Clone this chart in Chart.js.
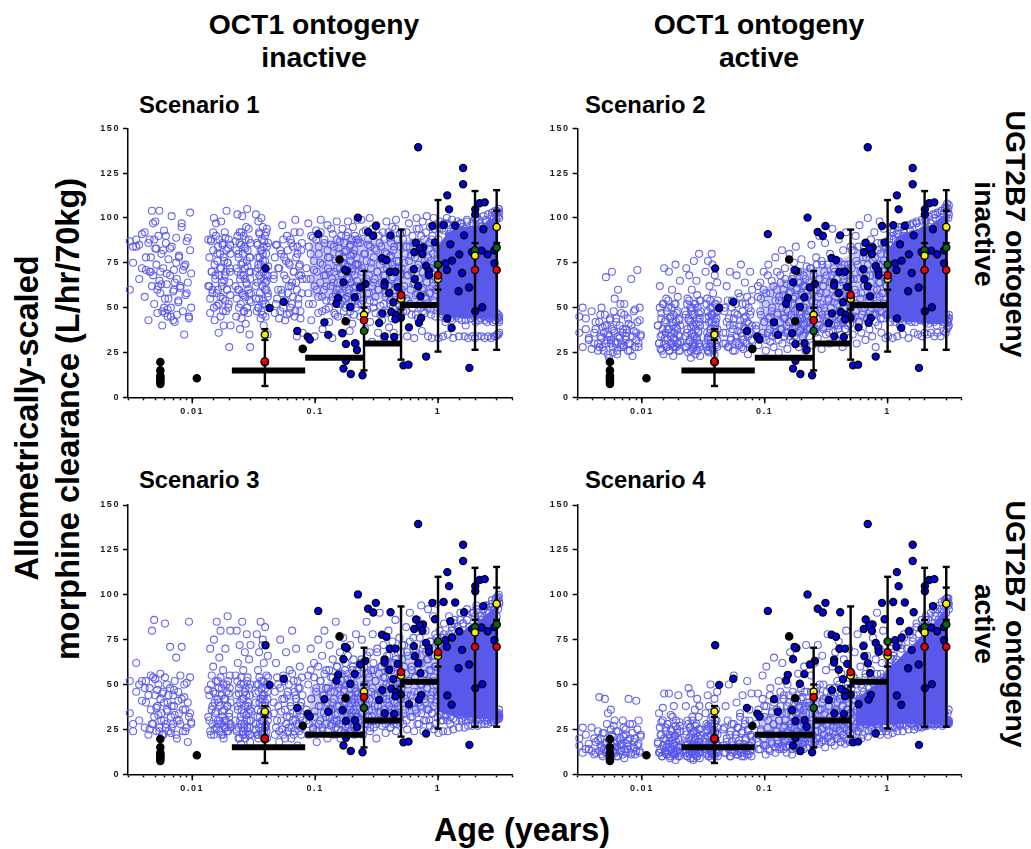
<!DOCTYPE html>
<html><head><meta charset="utf-8">
<script src="https://cdn.jsdelivr.net/npm/chart.js@4/dist/chart.umd.min.js"></script>
<style>
html,body{margin:0;padding:0;background:#fff}
body{width:1031px;height:849px;position:relative;overflow:hidden;font-family:"Liberation Sans",Arial,sans-serif;font-weight:bold;color:#000}
canvas{position:absolute}
.t{position:absolute;white-space:nowrap;transform:translate(-50%,-50%);line-height:1}
</style></head><body>
<script>
// simulated individuals: age in years, one row per age cluster
const cloudAge=[
[.0031,.0033,.0035,.0037,.0039,.0041,.0042,.0044,.0045,.0046,.0047,.0048,.0049,.005,.0051,.0052,.0053,.0054,.0055,.0056,.0057,.0058,.0059,.006,.0061,.0062,.0063,.0064,.0066,.0067,.0068,.007,.0071,.0072,.0074,.0075,.0077,.0078,.008,.0082,.0084,.0086,.0088,.009,.0092,.0094,.0096,.0098],
[.0135,.0138,.014,.0142,.0144,.0146,.0148,.015,.0152,.0154,.0156,.0158,.016,.0162,.0164,.0166,.0168,.017,.0172,.0174,.0176,.0178,.018,.0182,.0184,.0186,.0188,.019,.0192,.0194,.0196,.0198,.02,.0202,.0204,.0205],
[.0225,.0228,.023,.0233,.0235,.0238,.024,.0243,.0245,.0248,.025,.0252,.0255,.0258,.026,.0262,.0265,.0268,.027,.0272,.0275,.0278,.028,.0282,.0285,.0288,.029,.0292,.0294,.0296,.0298,.03],
[.0328,.033,.0335,.034,.0343,.0345,.035,.0352,.0355,.036,.0362,.0365,.037,.0372,.0375,.038,.0382,.0385,.039,.0392,.0395,.04,.0402,.0405,.041,.0412,.0415,.0345,.0375,.0395],
[.046,.047,.048,.049,.05,.051,.052,.053,.054,.055,.056,.057,.058,.059,.06,.061,.062,.063,.064,.065,.066,.067,.068,.069,.07,.071,.072,.073,.074,.075,.076,.077,.078,.079],
[.085,.088,.089,.092,.093,.096,.098,.099,.102,.103,.106,.107,.11,.111,.114,.115,.118,.119,.122,.123,.126,.127,.13,.131,.134,.135,.138,.139,.142,.143,.146,.147,.15,.151,.153,.155,.157,.159,.161,.163,.165,.167,.169,.171,.173,.175,.177,.179,.181,.183,.185,.187,.189,.191,.193,.195,.197,.199,.201,.203,.205,.207,.209,.211,.213,.215,.217,.219,.221,.223],
[.225,.23,.233,.238,.24,.245,.25,.255,.258,.262,.265,.27,.274,.278,.28,.285,.29,.294,.298,.3,.305,.31,.315,.32,.325,.33,.335,.34,.345,.35,.355,.36,.365,.37,.375,.38,.385,.39,.395,.4,.405,.41,.415,.42,.425,.43,.435,.44,.445,.45,.455,.46,.465,.47,.475,.48,.485,.49,.495,.5],
[.505,.51,.52,.53,.54,.55,.555,.56,.57,.58,.59,.6,.61,.62,.63,.64,.65,.66,.67,.68,.69,.7,.71,.72,.73,.74,.75,.76,.77,.78,.79,.8,.81,.82,.83,.84,.85,.86,.87,.88,.89,.9,.91,.92,.93,.94,.95,.96,.97,.98,.99],
[1.01,1.03,1.05,1.08,1.1,1.12,1.15,1.18,1.2,1.23,1.26,1.3,1.33,1.36,1.4,1.44,1.48,1.52,1.56,1.6,1.64,1.68,1.72,1.76,1.8,1.85,1.9,1.95,2,2.02,2.05,2.1,2.15,2.2,2.25,2.3,2.35,2.4,2.45,2.5,2.55,2.6,2.65,2.7,2.75,2.8,2.85,2.9,2.92,2.95,2.97,3,3.02,3.05,3.08,3.1,3.12,3.14,3.15,3.15]
];
const cloudS1=[
[87,84,88,85,72,92,71,86,70,78,104,68,88,98,83,60,62,104,70,63,48,82,50,47,90,69,45,55,83,50,101,43,60,64,75,46,54,78,62,97,71,35,74,58,89,45,103,50],
[88,62,47,87,70,58,92,100,43,68,97,51,80,60,36,88,72,45,98,64,85,55,40,76,68,89,48,104,60,75,83,52,28,70,85,40],
[87,45,72,102,60,80,50,92,38,68,85,44,101,75,57,90,48,66,83,41,95,63,105,73,47,88,58,35,78,28,70,53],
[62,102,48,85,72,98,55,91,78,44,66,100,82,52,95,70,40,87,60,76,45,92,65,84,35,58,73,50,80,68],
[68,47,85,55,72,44,82,60,96,50,78,43,66,90,58,75,47,88,62,52,84,70,45,99,64,34,80,55,73,92,48,68,86,36],
[66,97,52,80,43,89,71,34,93,60,47,84,75,99,56,38,68,88,49,62,96,78,42,70,85,54,33,91,64,47,77,58,98,72,45,83,60,87,52,69,36,94,75,48,81,63,55,90,44,73,98,58,66,37,85,50,79,70,41,95,61,46,82,54,74,30,88,65,99,52],
[88,62,45,99,72,54,80,38,93,66,49,85,58,100,42,75,31,90,64,53,83,47,96,70,36,60,86,51,77,43,92,68,33,81,56,98,47,74,62,39,89,52,79,44,95,67,36,84,58,72,99,46,63,88,33,76,54,91,49,69],
[60,92,48,75,102,55,84,34,68,97,52,79,46,90,63,33,86,57,100,72,44,94,66,50,81,37,98,61,88,47,74,55,101,68,34,83,58,95,49,76,33,90,64,100,53,85,45,72,96,60,80],
[33,98,45,94,34,97,42,100,35,91,44,99,33,96,46,93,34,97,43,95,34,40,99,33,92,44,34,96,33,47,100,34,43,97,34,94,45,33,99,42,34,96,44,33,101,46,34,98,43,102,34,95,35,103,44,35,105,42,36,100]
];
const cloudS2=[
[45,50,38,33,27,36,42,30,28,46,33,39,26,40,67,32,35,22,43,30,70,25,37,55,31,44,24,60,33,28,47,38,29,52,34,36,26,41,30,66,23,37,49,32,71,28,43,35],
[40,30,62,27,47,35,52,24,72,33,43,55,28,38,50,70,26,45,36,30,60,42,23,33,52,28,74,39,47,30,56,35,26,43,65,31],
[48,28,72,36,55,25,43,68,31,50,22,39,60,27,46,34,76,29,52,24,41,65,33,57,26,37,47,80,30,44,23,54],
[40,70,28,55,33,76,45,25,62,36,50,30,80,42,27,58,34,47,24,68,38,52,29,44,64,32,48,26,74,36],
[30,50,36,62,28,44,70,33,54,26,40,47,31,68,37,58,29,43,74,34,52,27,39,64,45,30,56,24,41,35,70,48,32,60],
[38,62,29,48,55,33,70,42,26,58,36,74,45,31,65,50,28,40,78,35,60,47,25,54,68,38,82,30,57,44,72,36,49,63,27,52,42,80,34,59,46,66,31,55,75,39,48,84,33,61,43,70,28,53,37,64,46,77,30,57,41,68,35,50,62,26,45,73,38,56],
[56,34,72,42,85,29,60,48,38,78,52,33,66,90,44,58,27,74,39,62,50,86,35,68,46,55,30,80,41,64,94,37,53,70,45,32,76,58,40,88,48,62,35,72,54,28,82,43,66,50,38,92,60,46,74,33,56,68,41,84],
[52,82,35,66,45,90,58,30,74,42,96,55,36,70,48,84,62,32,78,44,100,56,38,68,88,50,34,76,60,92,46,28,72,54,86,40,64,98,48,80,36,58,74,44,94,52,68,33,84,62,46],
[34,85,42,90,33,92,45,78,34,95,40,88,35,93,44,86,33,96,42,91,36,45,97,35,88,43,34,93,36,46,99,35,41,95,36,90,43,34,102,40,36,96,44,34,104,42,37,98,45,106,36,94,38,108,42,39,100,44,40,102]
];
const cloudS3=[
[52,28,62,50,41,48,52,44,25,55,80,28,86,53,37,47,33,24,56,30,45,22,40,84,26,50,35,44,71,23,38,28,47,33,65,20,41,30,55,71,36,43,24,51,18,85,34,29],
[47,30,70,22,55,38,60,75,25,45,35,85,28,52,40,65,30,80,22,48,35,58,20,42,30,70,26,50,38,88,24,45,32,55,80,28],
[55,25,80,38,62,20,45,72,30,50,17,36,85,24,58,42,28,68,20,48,33,78,26,54,38,22,64,30,44,18,72,35],
[45,25,78,32,58,20,68,40,28,85,35,52,22,72,44,30,62,24,38,82,48,27,55,20,42,66,33,50,75,26],
[40,22,62,30,50,18,75,35,25,55,42,20,68,32,46,26,58,38,20,80,30,52,24,44,70,34,16,48,28,60,38,22,54,30],
[30,55,22,70,42,25,62,35,48,18,75,28,52,38,66,24,44,80,32,58,20,48,36,72,27,54,40,64,22,46,33,85,30,60,25,50,38,68,20,42,56,28,76,35,47,23,62,40,30,53,66,26,44,36,72,24,50,34,58,28,64,42,22,48,32,78,38,55,26,45],
[40,25,62,34,75,22,50,30,42,85,28,56,36,68,24,46,32,78,58,26,38,52,20,70,44,30,90,35,60,27,48,72,33,54,23,42,66,30,80,38,50,26,58,34,74,44,28,62,36,86,24,52,40,68,31,46,76,29,56,42],
[48,72,28,60,36,82,44,25,66,52,90,32,58,40,76,24,54,68,34,86,46,28,62,38,94,50,70,24,56,42,80,30,64,48,92,36,58,27,74,44,66,34,88,52,25,60,78,40,95,46,32],
[23,80,30,76,24,84,33,70,24,88,28,82,25,86,34,78,26,90,30,84,26,35,92,27,80,32,27,90,28,36,94,27,33,88,28,86,34,28,94,30,28,90,36,29,97,33,29,92,34,98,30,88,32,99,34,31,100,36,32,95]
];
const cloudS4=[
[20,26,14,17,13,20,12,19,43,16,11,23,14,42,12,18,34,15,11,36,22,13,27,17,12,24,15,10,19,16,13,30,21,9,25,17,14,42,20,12,28,18,11,41,16,30,13,22],
[17,34,12,22,29,10,37,16,45,13,26,19,11,28,15,45,20,9,33,14,24,17,11,38,12,21,8,30,16,25,13,44,19,10,27,15],
[14,38,22,10,30,17,48,12,26,9,45,19,13,32,16,8,24,11,36,20,14,28,10,42,18,12,25,15,38,9,22,16],
[18,34,12,25,44,15,10,38,21,13,50,28,9,17,32,14,24,11,42,19,30,12,36,16,46,22,10,27,15,20],
[25,12,38,18,15,50,22,10,28,16,55,13,20,40,11,26,17,34,12,23,44,15,10,30,19,13,52,24,11,36,16,22,45,14],
[20,45,14,32,25,55,16,38,11,60,22,30,13,48,18,35,28,65,12,42,24,17,52,30,15,38,21,62,14,44,27,19,34,12,50,23,40,16,68,26,33,11,46,20,36,29,70,15,24,41,18,56,31,13,37,22,48,27,17,43,33,14,60,25,38,20,72,30,46,23],
[22,40,18,55,28,34,16,62,24,46,20,72,30,17,50,36,25,66,19,42,33,15,58,27,78,21,38,48,18,30,60,24,44,16,68,35,26,52,20,74,32,42,18,56,28,38,22,64,46,17,30,80,25,36,50,19,70,34,23,44],
[30,56,22,44,68,26,50,36,78,24,40,60,20,48,32,72,28,54,38,66,21,45,84,30,58,25,42,76,34,52,23,64,40,90,28,48,36,70,22,56,44,62,30,80,26,50,38,68,24,54,42],
[22,60,30,64,23,68,26,62,24,72,28,70,24,76,32,66,25,78,28,74,25,34,82,26,72,30,26,80,27,35,86,27,32,78,28,84,34,28,88,30,28,86,36,28,92,32,29,88,34,96,29,90,30,98,34,30,94,36,30,92]
];
// second set of simulated individuals, concentrated in the core of each cluster
const coreS1=[
[60,75,84,66,91,56,78,43,88,70,62,97,52,83,74,47,90,65,58,80,40,72,93,55,86,63,49,77,68,45,84,59,71,42,89,66,53,79,61,95,48,73,57,87,64,44,82,69],
[62,78,55,88,70,60,82,50,74,66,90,58,76,84,52,68,80,56,72,62,86,48,78,65,92,54,70,82,60,75,50,88,64,72,57,80],
[62,82,55,90,70,78,60,86,66,52,74,92,58,80,68,48,84,72,56,88,64,76,50,82,60,94,70,54,78,66,86,58],
[70,55,86,64,78,50,92,68,58,82,74,48,88,62,76,54,84,66,90,72,52,80,60,94,68,56,86,74,46,64],
[66,78,52,85,60,72,48,80,58,88,68,54,76,46,82,62,74,50,86,64,56,70,92,48,78,60,84,52,68,74,44,82,58,66],
[72,58,84,66,90,52,76,62,88,70,56,80,64,92,48,74,60,86,68,54,82,72,50,78,62,94,66,56,84,70,46,76,60,88,64,52,80,72,58,90,68,54,78,62,86,74,50,82,66,56,92,70,60,84,48,76,64,88,54,72,80,58,68,90,62,50,78,74,56,86],
[74,60,86,52,70,92,64,80,48,76,58,88,68,54,84,72,62,94,50,78,66,56,82,70,60,90,74,46,84,64,76,52,88,68,58,80,72,48,92,62,78,54,86,66,74,50,82,60,70,94,56,76,64,88,52,72,84,58,68,46],
[72,56,88,62,80,48,92,68,54,76,84,60,70,50,86,64,78,46,94,58,74,66,52,82,90,60,70,48,84,76,56,92,64,50,78,68,86,58,72,46,88,62,80,54,74,94,60,66,84,50,76],
[88,94,48,96,46,93,44,97,47,90,96,43,95,86,45,98,44,92,97,46,94,43,98,47,93,44,97,45,100,42,96,46,99,44,95,47,101,43,98,45,102,44,97,46,103,42,100,45,104,43,99,47,104,44,101,46,105,43,103,45]
];
const coreS2=[
[36,28,44,32,48,30,38,26,42,34,50,28,36,46,30,40,24,34,44,32,38,28,48,36,30,42,26,34,40,52,30,36,28,46,32,38,44,30,26,40,34,48,28,36,42,30,50,34],
[40,30,50,34,44,26,38,52,30,42,36,28,48,32,54,38,26,44,34,50,30,40,28,46,36,32,52,42,28,38,48,30,44,34,26,40],
[34,46,28,52,38,30,44,54,32,42,26,48,36,50,30,40,28,46,34,52,38,26,44,32,50,36,42,30,54,28,40,48],
[44,30,52,36,26,48,34,42,28,54,38,32,46,30,50,40,26,44,36,52,30,42,34,48,28,38,54,32,46,40],
[36,48,30,42,54,28,40,32,50,38,44,26,52,34,46,30,40,56,36,28,48,32,44,38,52,30,42,34,50,28,46,36,54,40],
[40,56,34,64,46,36,60,42,52,32,68,44,38,58,48,34,62,40,54,36,70,46,32,56,42,64,38,50,60,34,44,66,40,54,36,48,58,42,32,62,46,52,38,68,44,34,56,40,60,50,36,64,42,54,48,70,38,58,44,34,62,50,40,56,36,66,46,52,42,60],
[48,64,38,72,54,42,68,50,36,60,74,44,56,40,66,52,76,46,62,38,70,48,58,42,74,54,36,64,50,68,44,60,72,40,56,46,66,52,38,76,48,62,44,70,56,42,64,50,74,38,58,46,68,54,40,72,60,44,66,50],
[56,72,44,82,60,48,76,52,66,84,42,70,58,46,78,62,50,86,68,44,74,54,80,48,64,58,84,46,72,52,78,42,68,60,82,50,74,56,64,44,86,48,70,58,76,52,66,84,46,62,80],
[82,88,46,92,44,88,42,91,45,93,44,95,42,90,46,96,43,93,44,97,45,42,98,46,95,43,99,44,100,42,98,45,101,43,97,44,102,42,100,46,103,43,99,44,104,45,102,42,105,44,100,46,106,43,103,42,105,44,107,46]
];
const coreS3=[
[34,24,46,30,52,26,40,22,48,36,28,54,32,44,24,38,50,26,42,34,22,46,30,54,28,36,40,24,48,32,26,44,38,52,22,30,46,34,28,42,24,50,36,26,40,32,54,28],
[32,44,24,50,36,28,46,22,40,34,52,26,42,30,48,24,38,54,28,44,32,22,50,36,26,42,30,46,24,38,52,28,34,48,26,40],
[30,44,24,52,36,26,48,20,40,32,54,28,42,22,50,34,26,46,38,22,44,30,52,24,40,34,48,26,36,22,50,30],
[40,28,50,22,36,46,26,54,32,42,24,48,30,38,22,52,34,44,26,40,28,50,24,36,46,30,54,22,42,34],
[34,46,26,54,38,24,48,30,42,22,52,36,28,44,24,50,32,40,26,56,34,22,46,30,42,28,52,36,24,48,32,40,26,44],
[36,50,28,58,42,26,54,32,46,24,60,38,30,52,26,44,34,56,28,48,40,24,58,32,46,36,28,54,42,30,50,26,60,38,34,48,28,56,44,24,52,36,30,46,40,58,26,50,34,42,28,56,38,24,48,32,54,44,30,60,36,26,50,40,34,46,28,58,42,32],
[40,56,30,64,46,34,60,28,50,38,66,32,54,42,26,58,36,48,62,30,44,52,28,68,38,56,34,46,60,30,42,54,36,64,28,50,40,58,32,66,44,26,52,36,62,48,30,56,40,34,64,46,28,54,38,60,32,50,42,68],
[48,64,34,72,42,56,30,68,50,38,74,44,60,32,70,46,54,36,66,28,58,40,76,50,34,62,44,72,30,56,40,68,48,36,64,52,30,74,42,58,34,70,46,54,38,66,28,60,50,76,44],
[72,66,33,74,30,78,32,76,30,78,32,80,31,84,30,82,33,86,31,84,32,30,86,33,82,31,90,32,88,30,92,33,90,31,88,32,92,30,94,33,91,31,93,32,95,30,92,33,96,31,94,33,96,32,92,34,98,31,96,33]
];
const coreS4=[
[16,12,22,14,26,11,18,24,13,20,15,10,23,17,12,28,14,19,11,25,16,21,12,30,15,10,18,24,13,20,17,11,26,14,22,12,19,16,28,11,23,15,20,13,25,17,12,21],
[18,12,26,14,22,10,30,16,20,12,24,15,11,28,17,13,22,10,25,14,19,32,12,21,16,11,27,18,13,23,10,20,15,29,12,24],
[16,12,24,18,10,28,14,20,11,26,15,22,12,30,17,9,24,13,19,27,11,16,23,10,21,14,32,18,12,25,15,20],
[20,14,28,11,24,16,10,26,18,13,30,22,12,16,25,11,20,15,28,10,23,14,18,30,12,26,16,21,11,24],
[16,26,12,20,30,14,10,24,18,12,28,15,22,11,26,13,19,32,14,10,24,17,12,28,20,15,11,25,16,30,13,21,10,18],
[28,18,36,14,24,42,20,32,16,38,26,14,44,22,34,17,28,40,15,24,36,19,30,14,46,22,34,16,26,42,18,30,15,38,24,20,44,16,28,36,22,14,32,18,40,26,15,34,20,44,24,17,30,38,14,26,42,19,32,22,16,36,28,46,18,24,34,15,40,20],
[26,38,20,46,30,22,42,18,34,28,48,24,36,20,44,30,18,40,26,50,22,34,28,46,20,38,24,32,44,18,30,42,26,48,22,36,20,40,28,34,50,24,18,44,30,38,22,46,26,32,42,20,36,28,48,24,40,18,34,44],
[34,48,26,54,38,28,44,24,52,32,42,26,50,36,22,46,30,56,28,40,34,24,48,36,54,26,42,30,50,24,38,46,28,56,32,44,26,40,52,30,36,24,48,34,54,28,42,26,46,38,50],
[56,62,27,70,26,66,30,64,28,74,27,72,28,78,27,70,29,80,28,76,27,29,84,28,78,27,86,28,84,27,88,28,86,29,90,28,92,27,90,28,92,29,94,28,96,27,90,29,97,28,94,29,98,28,96,29,98,28,95,29]
];
// solid overlap of the simulated individuals at the oldest ages
const denseAge=[[1,1.2,1.6,2.2,3.1],[1,1.2,1.6,2.2,3.1],[1,1.2,1.6,2.2,3.1],[.55,.8,1,1.3,1.7,2.2,3.1]];
const denseUpper=[[84,92,95,96,101],[82,90,93,96,103],[70,76,80,86,95],[42,50,58,66,74,82,93]];
const denseLower=[[46,45,44,44,44],[45,43,42,41,41],[35,33,32,31,31],[27,27,28,28,28,28,29]];
// mottled overlap at intermediate ages
const mottledAge=[.09,.2,.35,.6,1];
const mottledUpper=[[86,90,88,88,88],[60,70,75,82,84],[48,55,62,68,72],[32,40,45,44,56]];
const mottledLower=[[56,52,55,50,48],[33,35,38,42,46],[25,28,30,32,36],[15,18,20,24,28]];
// observed patients
const blueAge=[.689,1.6,1.6,1.19,1.23,2.18,2.4,2.01,2.01,.223,.312,.27,.297,.106,.411,.9,1.11,1.38,1.63,2.34,.945,.663,1.26,.64,.755,.71,.746,1.49,1.89,2.26,2.53,2.88,1.3,.35,.38,1.15,2.88,.8,1.18,.635,.0395,.181,.175,.405,.45,.84,.845,1.57,.647,.17,.367,.367,.256,.233,.69,.47,1.79,1.47,.4,.72,.154,.21,.149,.433,.193,.0426,.0555,.417,.352,.454,.5,.45,2.01,2.29,1.19,.73,.7,1.29,.58,.332,.119,.0716,.167,.128,.087,.0905,.368,.44,.178,.211,.219,.178,.8,.523,.575,1.8,.17,.195,.243];
const blueValue=[139.4,127.9,118.8,112.6,104.8,108.2,108.7,104.8,102,100.2,95.5,92.2,90.1,91,90.3,95.5,96,95.7,90.3,93.7,86.4,86.2,85.3,80.9,83.5,83,79.9,79.7,81,81.8,79.7,82,76.2,77.7,76.6,74.7,74.7,73.2,71,71.4,71.9,70.4,71,69.9,70,70.4,68.2,69.3,65.8,64.1,63.9,62.3,63.2,61.2,61.9,61.5,61.2,59.1,58.2,56.3,55.4,55.8,52.2,53,50.4,49.8,53.2,47.6,46.8,45.9,44.4,43.5,48,50.2,43.9,44.2,41.6,38.7,39,41.4,41.8,37,35.7,34.8,33.8,32.2,34,33.6,29.7,30.1,26.4,20.4,22.7,17.8,18.2,16.4,16,13,12.3];
const blackAge=[.0055,.0055,.0055,.0055,.0055,.0055,.0055,.0109,.158,.177,.0793,.039];
const blackValue=[19.7,15,12,11,10,9,7.5,10.6,76.8,42.4,27,19.5];
// age-group means
const groupFrom=[.021,.083,.25,.5];
const groupTo=[.083,.25,.5,1];
const groupMean=[15,22,30,51.5];
// summary markers and whiskers
const summaryAge=[.039,.25,.5,1,2,3];
const redValue=[20,43,57,68,71,71];
const yellowValue=[35,46,55,66,79,95];
const greenValue=[20,37,55,74,82,83.5];
const whiskerLow=[6.3,15,21,25.5,26.5,26.5];
const whiskerHigh=[38,70.5,93.5,110,115,115.5];
const extraCapAge=[.039,.25,.5,1,2,3,3];
const extraCapValue=[32,50,49,60,86,104,86];
// axis ticks
const yTicks=[0,25,50,75,100,125,150];
const xTickLabels=[0.01,0.1,1];

const titles=[
 ["OCT1 ontogeny",314,24,28.3,0],["inactive",314,57,28.3,0],
 ["OCT1 ontogeny",759,24,28.3,0],["active",759,57,28.3,0],
 ["Allometrically-scaled",27,418,32.5,-90],["morphine clearance (L/hr/70kg)",68,419,32.5,-90],
 ["UGT2B7 ontogeny",1016,234,28.3,90],["inactive",985,234,28.3,90],
 ["UGT2B7 ontogeny",1016,624,28.3,90],["active",985,624,28.3,90],
 ["Age (years)",522,830,32.3,0]
];
titles.forEach(([s,x,y,f,rot])=>{
 const d=document.createElement('div');d.className='t';d.textContent=s;
 d.style.cssText=`left:${x}px;top:${y}px;font-size:${f}px;transform:translate(-50%,-50%) rotate(${rot}deg)`;
 document.body.appendChild(d);
});
const panels=[
 {name:"Scenario 1",cloud:cloudS1,core:coreS1,idx:0,x:128,top:128.3,bottom:397.3,lx:139,ly:105},
 {name:"Scenario 2",cloud:cloudS2,core:coreS2,idx:1,x:577.6,top:128.3,bottom:397.3,lx:585,ly:105},
 {name:"Scenario 3",cloud:cloudS3,core:coreS3,idx:2,x:128,top:505,bottom:774.3,lx:139,ly:480},
 {name:"Scenario 4",cloud:cloudS4,core:coreS4,idx:3,x:577.6,top:505,bottom:774.3,lx:585,ly:480}
];
const pairs=(xs,ys)=>xs.map((x,i)=>({x,y:ys[i]}));
const majorTicks={id:'majorTicks',
 beforeDraw(c){c.ctx.letterSpacing='1.6px';},
 afterDraw(c){const s=c.scales.x,g=c.ctx;g.save();g.strokeStyle='#000';g.lineWidth=1.5;
  xTickLabels.forEach(v=>{const p=s.getPixelForValue(v);g.beginPath();g.moveTo(p,s.top);g.lineTo(p,s.top+6);g.stroke();});g.restore();}};
panels.forEach(p=>{
 const lab=document.createElement('div');lab.className='t';lab.textContent=p.name;
 lab.style.cssText=`left:${p.lx}px;top:${p.ly}px;font-size:23.8px;transform:translateY(-50%)`;
 document.body.appendChild(lab);
 const cL=Math.floor(p.x)-48, cT=Math.floor(p.top)-10, w=450, h=310;
 const cv=document.createElement('canvas');cv.width=w;cv.height=h;cv.style.cssText=`left:${cL}px;top:${cT}px;width:${w}px;height:${h}px`;
 document.body.appendChild(cv);
 const ds=[];
 const rings=[];
 [p.cloud,p.core].forEach(set=>set.forEach((row,b)=>{const ages=cloudAge[b];row.forEach((v,i)=>{if(i<ages.length)rings.push({x:ages[i],y:v});});}));
 ds.push({label:'dense upper',data:pairs(denseAge[p.idx],denseUpper[p.idx]),showLine:true,pointRadius:0,borderWidth:0,borderColor:'transparent',backgroundColor:'rgb(88,88,235)',fill:'+1',order:60,clip:false});
 ds.push({label:'dense lower',data:pairs(denseAge[p.idx],denseLower[p.idx]),showLine:true,pointRadius:0,borderWidth:0,borderColor:'transparent',order:61,clip:false});
 ds.push({label:'mottled upper',data:pairs(mottledAge,mottledUpper[p.idx]),showLine:true,pointRadius:0,borderWidth:0,borderColor:'transparent',backgroundColor:'rgba(88,88,235,.3)',fill:'+1',order:80,clip:false});
 ds.push({label:'mottled lower',data:pairs(mottledAge,mottledLower[p.idx]),showLine:true,pointRadius:0,borderWidth:0,borderColor:'transparent',order:81,clip:false});
 ds.push({label:'simulated',data:rings,pointRadius:3.5,pointBorderWidth:1.1,pointBorderColor:'rgba(88,88,235,.9)',pointBackgroundColor:'transparent',order:70,clip:false});
 ds.push({label:'observed',data:pairs(blueAge,blueValue),pointRadius:3.5,pointBorderWidth:1.4,pointBorderColor:'#000',pointBackgroundColor:'#0000e8',order:50,clip:false});
 ds.push({label:'black',data:pairs(blackAge,blackValue),pointRadius:3.6,pointBorderWidth:1.4,pointBorderColor:'#000',pointBackgroundColor:'#000',order:49,clip:false});
 groupMean.forEach((m,i)=>ds.push({label:'mean',data:[{x:groupFrom[i],y:m},{x:groupTo[i],y:m}],showLine:true,borderColor:'#000',borderWidth:6,pointRadius:0,order:40,clip:false}));
 summaryAge.forEach((a,i)=>ds.push({label:'whisker',data:[{x:a,y:whiskerLow[i]},{x:a,y:whiskerHigh[i]}],showLine:true,borderColor:'#000',borderWidth:2.4,pointStyle:'line',pointRadius:3.5,pointBorderColor:'#000',pointBorderWidth:2.4,order:30,clip:false}));
 ds.push({label:'caps',data:pairs(extraCapAge,extraCapValue),pointStyle:'line',pointRadius:3.5,pointBorderColor:'#000',pointBorderWidth:2.4,order:30,clip:false});
 ds.push({label:'green',data:pairs(summaryAge,greenValue),pointRadius:3.6,pointBorderWidth:1.4,pointBorderColor:'#000',pointBackgroundColor:'#066a10',order:22,clip:false});
 ds.push({label:'yellow',data:pairs(summaryAge,yellowValue),pointRadius:3.6,pointBorderWidth:1.4,pointBorderColor:'#000',pointBackgroundColor:'#f7f000',order:21,clip:false});
 ds.push({label:'red',data:pairs(summaryAge,redValue),pointRadius:3.6,pointBorderWidth:1.4,pointBorderColor:'#000',pointBackgroundColor:'#f00000',order:20,clip:false});
 new Chart(cv,{type:'scatter',data:{datasets:ds},plugins:[majorTicks],options:{
  responsive:false,animation:false,devicePixelRatio:1,
  layout:{padding:{left:0,right:w-(p.x-cL)-384,top:p.top-cT,bottom:0}},
  plugins:{legend:{display:false},tooltip:{enabled:false}},
  scales:{
   x:{type:'logarithmic',min:.003,max:4,offset:false,
    afterFit(s){s.height=h-(p.bottom-cT);},
    border:{display:true,color:'#000',width:1.5},
    grid:{display:true,drawOnChartArea:false,drawTicks:true,tickLength:3,tickColor:'#000',tickWidth:1.5},
    ticks:{autoSkip:false,maxRotation:0,padding:6,color:'#1a1a1a',font:{family:'"Liberation Sans"',weight:'bold',size:9},
     callback:v=>xTickLabels.some(t=>Math.abs(t-v)<t*1e-6)?String(xTickLabels.find(t=>Math.abs(t-v)<t*1e-6)):''}},
   y:{type:'linear',min:0,max:150,
    afterFit(s){s.width=p.x-cL;},
    afterBuildTicks(s){s.ticks=yTicks.map(v=>({value:v}));},
    border:{display:true,color:'#000',width:1.5},
    grid:{display:true,drawOnChartArea:false,drawTicks:true,tickLength:5,tickColor:'#000',tickWidth:1.5},
    ticks:{padding:3,color:'#1a1a1a',font:{family:'"Liberation Sans"',weight:'bold',size:9}}}
  }}});
});
</script>
</body></html>
